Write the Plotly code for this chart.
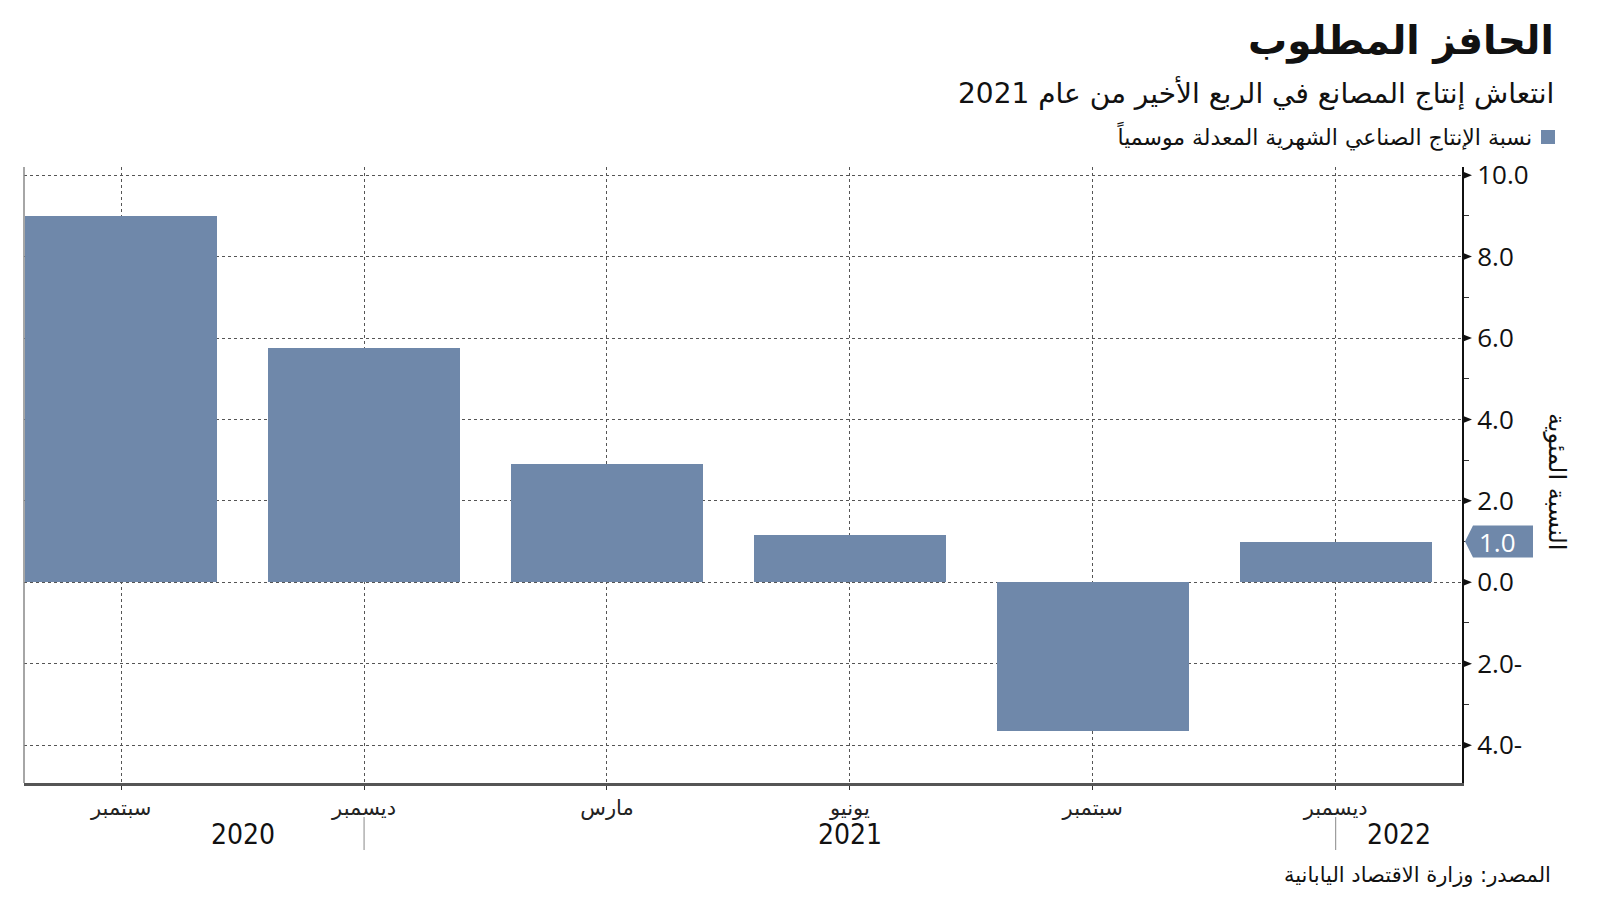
import plotly.graph_objects as go

# ---- data ----
months = ["سبتمبر", "ديسمبر", "مارس", "يونيو", "سبتمبر", "ديسمبر"]
values = [9.0, 5.75, 2.9, 1.15, -3.65, 1.0]
years = ["2020", "2021", "2022"]
year_breaks = [1, 5]          # index where a new year segment starts
ytick_vals = [-4, -2, 0, 2, 4, 6, 8, 10]
ytick_text = ["4.0-", "2.0-", "0.0", "2.0", "4.0", "6.0", "8.0", "10.0"]

title = "الحافز المطلوب"
subtitle = "انتعاش إنتاج المصانع في الربع الأخير من عام 2021"
legend_text = "نسبة الإنتاج الصناعي الشهرية المعدلة موسمياً"
y_title = "النسبة المئوية"
source = "المصدر: وزارة الاقتصاد اليابانية"

# ---- layout geometry ----
W, H = 1600, 901
L, R, T, B = 24, 138, 167, 118
PW, PH = W - L - R, H - T - B
XR = [-0.4, 5.52]
YR = [-4.93, 10.2]
BAR = "#6f88aa"
AR_FONT = "DejaVu Sans"
NUM_FONT = "Open Sans"


def px(xp):
    return (xp - L) / PW


def py(yp):
    return (H - B - yp) / PH


ypu = (YR[1] - YR[0]) / PH   # y data units per pixel

x = list(range(len(values)))

fig = go.Figure()
fig.add_trace(go.Bar(x=x, y=values, width=0.79, marker=dict(color=BAR, line=dict(width=0)),
                     showlegend=False, hoverinfo="skip"))

fig.update_layout(
    width=W, height=H, autosize=False,
    margin=dict(l=L, r=R, t=T, b=B, pad=0),
    paper_bgcolor="white", plot_bgcolor="white",
    bargap=0,
    xaxis=dict(range=XR, tickmode="array", tickvals=x, ticktext=months,
               showgrid=True, gridcolor="#555", griddash="dot", gridwidth=1,
               showline=True, linecolor="#555", linewidth=2.5,
               ticks="outside", ticklen=4, tickcolor="#333", tickwidth=1,
               tickfont=dict(family=AR_FONT, size=21, color="#222"), zeroline=False),
    yaxis=dict(range=YR, side="right", tickmode="array", tickvals=ytick_vals, ticktext=ytick_text,
               showgrid=True, gridcolor="#555", griddash="dot", gridwidth=1,
               showline=True, linecolor="#111", linewidth=2,
               ticks="outside", ticklen=8, tickcolor="rgba(0,0,0,0)",
               minor=dict(tick0=0, dtick=1, ticks="outside", ticklen=5, tickcolor="#333", tickwidth=1, showgrid=False),
               tickfont=dict(family=NUM_FONT, size=26, color="#111"), zeroline=False),
)

shapes = []
# left axis line
shapes.append(dict(type="line", xref="paper", yref="paper", x0=0, x1=0, y0=0, y1=1,
                   line=dict(color="#888", width=1.5)))
# triangle tick markers on right axis
tw = 10 / PW
th = 4 * ypu
for v in ytick_vals:
    shapes.append(dict(type="path", xref="paper", yref="y",
                       path=f"M 1,{v - th} L {1 + tw},{v} L 1,{v + th} Z",
                       fillcolor="#111", line=dict(width=0)))
# value tag for last bar
last = values[-1]
hh = 16 * ypu
tip, body0, body1 = 1 + 3 / PW, 1 + 11 / PW, 1 + 71 / PW
shapes.append(dict(type="path", xref="paper", yref="y",
                   path=f"M {tip},{last} L {body0},{last + hh} L {body1},{last + hh} L {body1},{last - hh} L {body0},{last - hh} Z",
                   fillcolor=BAR, line=dict(width=0)))
# year separators
for b in year_breaks:
    shapes.append(dict(type="line", xref="x", yref="paper", x0=b, x1=b, y0=py(817), y1=py(850),
                       line=dict(color="#888", width=1)))
# legend square
shapes.append(dict(type="rect", xref="paper", yref="paper", x0=px(1541), x1=px(1555), y0=py(144), y1=py(130),
                   fillcolor=BAR, line=dict(width=0)))
fig.update_layout(shapes=shapes)

ann = []
ann.append(dict(text=f"{last:.1f}", xref="paper", yref="y", x=1 + 15 / PW, y=last, xanchor="left", yanchor="middle",
                showarrow=False, font=dict(family=NUM_FONT, size=26, color="white")))
ann.append(dict(text=f"<b>{title}</b>", xref="paper", yref="paper", x=px(1556), y=py(41), xanchor="right",
                yanchor="middle", showarrow=False, font=dict(family=AR_FONT, size=39, color="#111")))
ann.append(dict(text=subtitle, xref="paper", yref="paper", x=px(1556), y=py(93), xanchor="right",
                yanchor="middle", showarrow=False, font=dict(family=AR_FONT, size=28, color="#111")))
ann.append(dict(text=legend_text, xref="paper", yref="paper", x=px(1534), y=py(136), xanchor="right",
                yanchor="middle", showarrow=False, font=dict(family=AR_FONT, size=22, color="#111")))
ann.append(dict(text=y_title, xref="paper", yref="paper", x=px(1557), y=py(482), xanchor="center",
                yanchor="middle", textangle=90, showarrow=False, font=dict(family=AR_FONT, size=24, color="#111")))
ann.append(dict(text=source, xref="paper", yref="paper", x=px(1553), y=py(875), xanchor="right",
                yanchor="middle", showarrow=False, font=dict(family=AR_FONT, size=21, color="#111")))
starts = [0] + year_breaks
ends = year_breaks + [XR[1]]
for yl, s, e in zip(years, starts, ends):
    ann.append(dict(text=yl, xref="x", yref="paper", x=(s + e) / 2, y=py(834), xanchor="center",
                    yanchor="middle", showarrow=False,
                    font=dict(family="DejaVu Sans Condensed, DejaVu Sans", size=28, color="#111")))
fig.update_layout(annotations=ann)

fig.write_html("out.html")
